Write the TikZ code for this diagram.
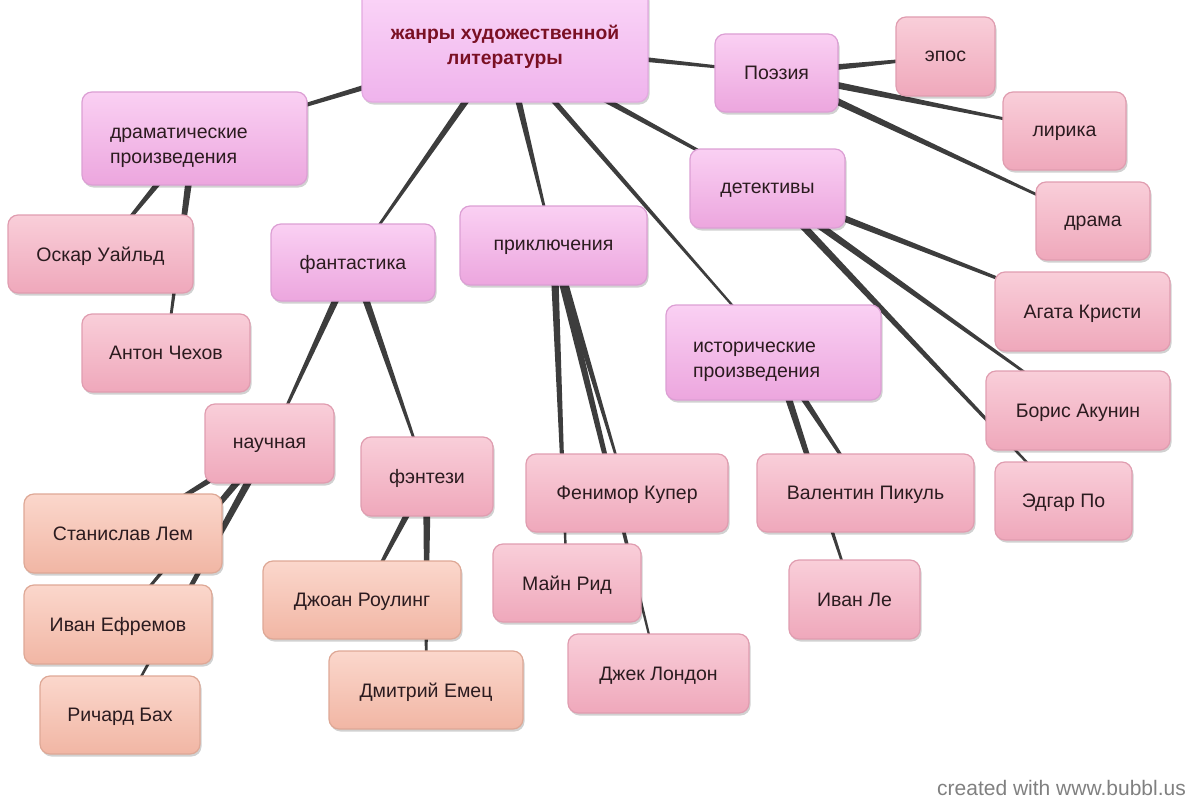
\documentclass[tikz,border=0pt]{standalone}
\usepackage{fontspec}
\setmainfont{Liberation Sans}
\usetikzlibrary{calc,shadows}
\definecolor{linkc}{HTML}{3D3D3D}
\definecolor{txtc}{HTML}{2B1B1F}
\definecolor{rootc}{HTML}{7A1024}
\definecolor{pinkT}{HTML}{F9CED9}
\definecolor{pinkB}{HTML}{EFA8BB}
\definecolor{pinkD}{HTML}{E09DB0}
\definecolor{lavT}{HTML}{FAD0F3}
\definecolor{lavB}{HTML}{ECA6DE}
\definecolor{lavD}{HTML}{DC9FD4}
\definecolor{peaT}{HTML}{FBD7CC}
\definecolor{peaB}{HTML}{F1B6A4}
\definecolor{peaD}{HTML}{DEA896}
\definecolor{rootT}{HTML}{FBD6F8}
\definecolor{rootB}{HTML}{EFB3EC}
\definecolor{rootD}{HTML}{E3A9E1}
\pgfdeclarelayer{bg}
\pgfsetlayers{bg,main}
\newcommand\taper[4]{\fill[linkc] ($(#1)!#3!90:(#2)$) -- ($(#2)!#4!-90:(#1)$) -- ($(#2)!#4!90:(#1)$) -- ($(#1)!#3!-90:(#2)$) -- cycle;}
\tikzset{
  bub/.style={rounded corners=10pt, line width=1.2pt, text=txtc, inner sep=0pt,
    font=\fontsize{19.5}{25}\selectfont, text depth=0pt,
    drop shadow={shadow xshift=1.5pt, shadow yshift=-2.5pt, opacity=0.18, fill=black}},
  pinkbox/.style={bub, draw=pinkD, top color=pinkT, bottom color=pinkB},
  lavbox/.style={bub, draw=lavD, top color=lavT, bottom color=lavB},
  peabox/.style={bub, draw=peaD, top color=peaT, bottom color=peaB},
  rootbox/.style={bub, draw=rootD, top color=rootT, bottom color=rootB, text=rootc,
    font=\fontsize{19.3}{25}\selectfont\bfseries, align=center},
  sz/.style 2 args={minimum width=#1pt, minimum height=#2pt},
}
\begin{document}
\begin{tikzpicture}[x=1pt,y=-1pt]
\useasboundingbox (0,0) rectangle (1200,800);
% root
\node[rootbox, sz={286}{114}] (root) at (505,45) {жанры художественной\\литературы};
% level 1
\node[lavbox, sz={225}{93}, text width=169pt, align=left, text depth=10pt] (dram) at (194.5,138.5) {драматические\\произведения};
\node[lavbox, sz={164}{77}] (fant) at (353,262.5) {фантастика};
\node[lavbox, sz={187}{79}] (adv) at (553.5,245.5) {приключения};
\node[lavbox, sz={215}{95}, text width=161pt, align=left, text depth=10pt] (hist) at (773.5,352.5) {исторические\\произведения};
\node[lavbox, sz={123}{78}] (poet) at (776.5,73) {Поэзия};
\node[lavbox, sz={155}{79}] (detect) at (767.5,188.5) {детективы};
% drama
\node[pinkbox, sz={185}{78}] (oscar) at (100.5,254) {Оскар Уайльд};
\node[pinkbox, sz={168}{78}] (chekhov) at (166,353) {Антон Чехов};
% fantasy
\node[pinkbox, sz={129}{79}] (nauch) at (269.5,443.5) {научная};
\node[pinkbox, sz={132}{79}] (fent) at (427,476.5) {фэнтези};
\node[peabox, sz={198}{79}] (lem) at (123,533.5) {Станислав Лем};
\node[peabox, sz={188}{79}] (efr) at (118,624.5) {Иван Ефремов};
\node[peabox, sz={160}{78}] (bach) at (120,715) {Ричард Бах};
\node[peabox, sz={198}{78}] (rowl) at (362,600) {Джоан Роулинг};
\node[peabox, sz={194}{78}] (emets) at (426,690) {Дмитрий Емец};
% adventure
\node[pinkbox, sz={202}{78}] (cooper) at (627,493) {Фенимор Купер};
\node[pinkbox, sz={148}{78}] (reid) at (567,583) {Майн Рид};
\node[pinkbox, sz={181}{79}] (london) at (658.5,673.5) {Джек Лондон};
% history
\node[pinkbox, sz={217}{78}] (pikul) at (865.5,493) {Валентин Пикуль};
\node[pinkbox, sz={131}{79}] (ivanle) at (854.5,599.5) {Иван Ле};
% poetry
\node[pinkbox, sz={99}{79}] (epos) at (945.5,56.5) {эпос};
\node[pinkbox, sz={123}{78}] (lyric) at (1064.5,131) {лирика};
\node[pinkbox, sz={114}{78}] (dramag) at (1093,221) {драма};
% detective
\node[pinkbox, sz={175}{79}] (agatha) at (1082.5,311.5) {Агата Кристи};
\node[pinkbox, sz={184}{79}] (boris) at (1078,410.5) {Борис Акунин};
\node[pinkbox, sz={137}{78}] (edgar) at (1063.5,501) {Эдгар По};
% watermark
\node[text=black!50, font=\fontsize{21}{24}\selectfont, anchor=east, inner sep=0pt] (wm) at (1186,788) {created with www.bubbl.us};
% connectors
\begin{pgfonlayer}{bg}
\taper{root}{dram}{4pt}{0.8pt}
\taper{root}{fant}{4pt}{0.8pt}
\taper{root}{adv}{4pt}{0.8pt}
\taper{root}{hist}{3pt}{0.8pt}
\taper{root}{poet}{4pt}{0.8pt}
\taper{root}{detect}{4pt}{0.8pt}
\taper{dram}{oscar}{4pt}{0.8pt}
\taper{dram}{chekhov}{4pt}{0.8pt}
\taper{fant}{nauch}{4pt}{0.8pt}
\taper{fant}{fent}{4pt}{0.8pt}
\taper{nauch}{lem}{4pt}{0.8pt}
\taper{nauch}{efr}{4pt}{0.8pt}
\taper{nauch}{bach}{4pt}{0.8pt}
\taper{fent}{rowl}{4pt}{0.8pt}
\taper{fent}{emets}{4pt}{0.8pt}
\taper{adv}{cooper}{4pt}{0.8pt}
\taper{adv}{reid}{4pt}{0.8pt}
\taper{adv}{london}{4pt}{0.8pt}
\taper{hist}{pikul}{4pt}{0.8pt}
\taper{hist}{ivanle}{4pt}{0.8pt}
\taper{poet}{epos}{4pt}{0.8pt}
\taper{poet}{lyric}{4pt}{0.8pt}
\taper{poet}{dramag}{4pt}{0.8pt}
\taper{detect}{agatha}{4pt}{0.8pt}
\taper{detect}{boris}{4pt}{0.8pt}
\taper{detect}{edgar}{4pt}{0.8pt}
\end{pgfonlayer}
\end{tikzpicture}
\end{document}
